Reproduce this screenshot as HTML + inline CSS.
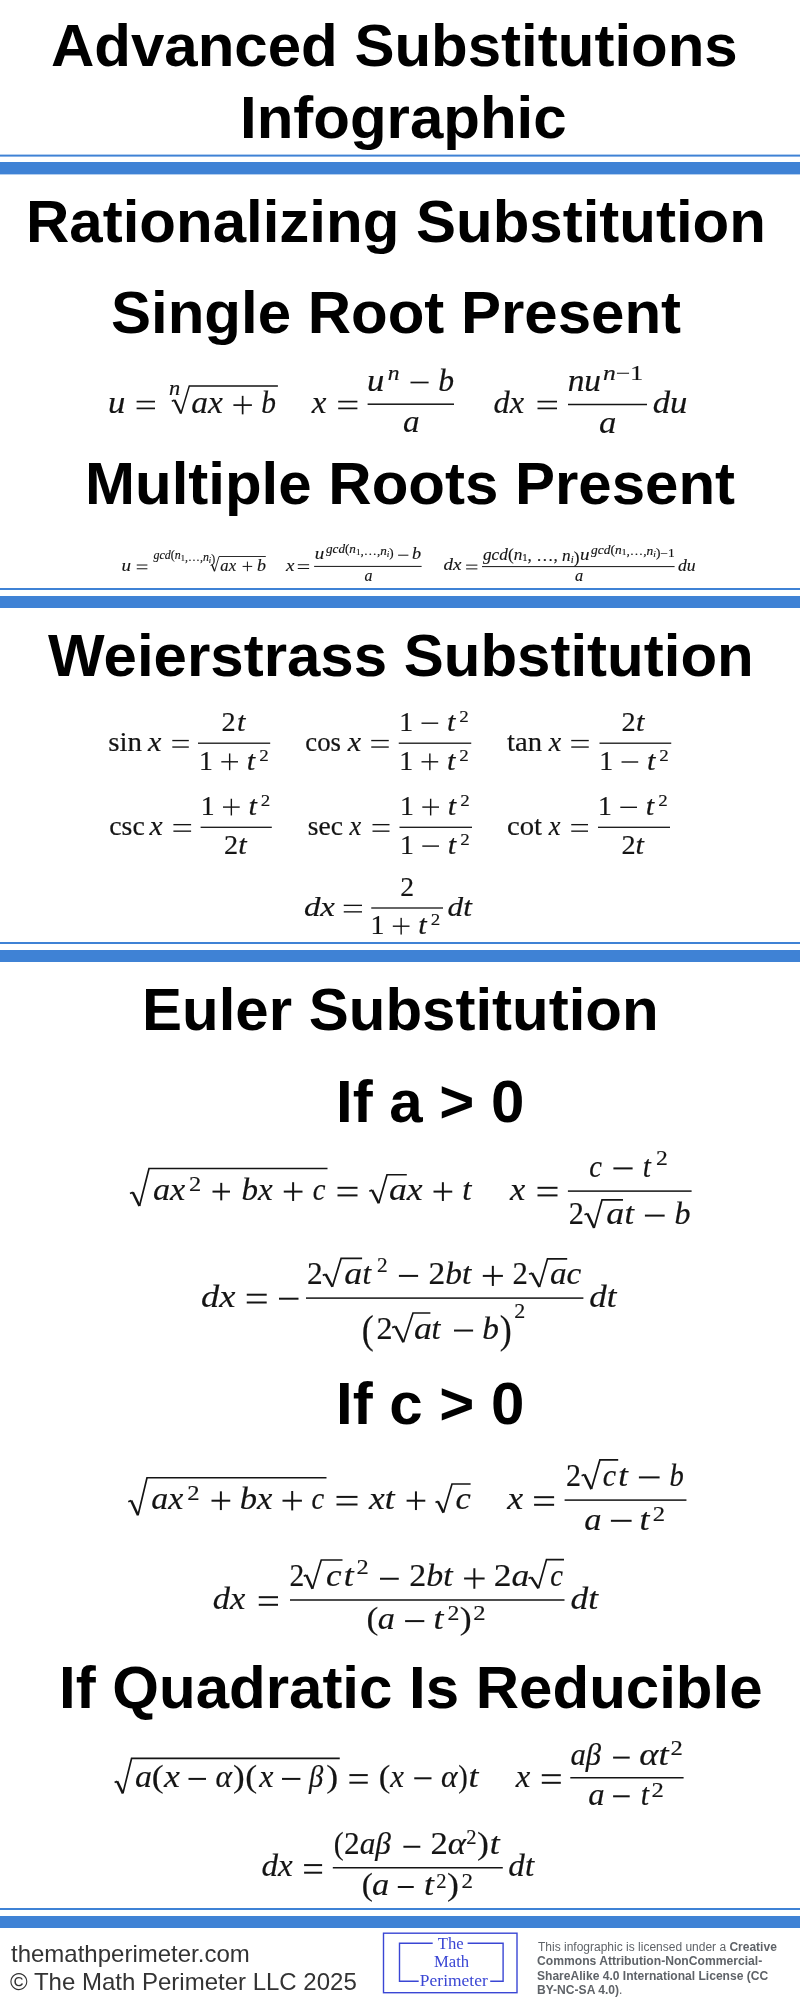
<!DOCTYPE html>
<html><head><meta charset="utf-8"><title>Advanced Substitutions Infographic</title>
<style>html,body{margin:0;padding:0;background:#fff;width:800px;height:2005px;overflow:hidden}svg{display:block;will-change:transform}.t,h1,h2,h3,p,div.t{position:absolute;margin:0;padding:0;white-space:nowrap;will-change:transform}</style></head>
<body><svg width="800" height="2005" viewBox="0 0 800 2005">
<rect x="0.00" y="154.60" width="800.00" height="2.00" fill="#3f82d5"/>
<rect x="0.00" y="162.00" width="800.00" height="12.40" fill="#3f82d5"/>
<rect x="0.00" y="588.00" width="800.00" height="2.00" fill="#3f82d5"/>
<rect x="0.00" y="596.00" width="800.00" height="12.00" fill="#3f82d5"/>
<rect x="0.00" y="942.00" width="800.00" height="2.00" fill="#3f82d5"/>
<rect x="0.00" y="950.00" width="800.00" height="12.00" fill="#3f82d5"/>
<rect x="0.00" y="1908.00" width="800.00" height="2.00" fill="#3f82d5"/>
<rect x="0.00" y="1916.00" width="800.00" height="12.00" fill="#3f82d5"/>
<rect x="136.60" y="400.75" width="18.40" height="1.70" fill="#141414"/>
<rect x="136.60" y="407.55" width="18.40" height="1.70" fill="#141414"/>
<path d="M171.80,401.20 L174.56,400.00" stroke="#141414" stroke-width="1.5" fill="none"/>
<path d="M174.56,400.00 L181.00,413.50" stroke="#141414" stroke-width="2.3" fill="none"/>
<path d="M181.00,413.50 L189.30,385.90 L277.90,385.90" stroke="#141414" stroke-width="1.5" fill="none" stroke-linejoin="miter"/>
<rect x="233.40" y="404.25" width="18.50" height="1.70" fill="#141414"/>
<rect x="241.80" y="395.85" width="1.70" height="18.50" fill="#141414"/>
<rect x="338.20" y="400.75" width="19.20" height="1.70" fill="#141414"/>
<rect x="338.20" y="407.55" width="19.20" height="1.70" fill="#141414"/>
<rect x="367.60" y="403.45" width="86.40" height="1.50" fill="#141414"/>
<rect x="410.50" y="381.65" width="18.10" height="1.70" fill="#141414"/>
<rect x="537.50" y="400.75" width="19.50" height="1.70" fill="#141414"/>
<rect x="537.50" y="407.55" width="19.50" height="1.70" fill="#141414"/>
<rect x="568.00" y="403.75" width="79.00" height="1.50" fill="#141414"/>
<rect x="136.75" y="564.52" width="10.65" height="1.00" fill="#141414"/>
<rect x="136.75" y="568.27" width="10.65" height="1.00" fill="#141414"/>
<path d="M210.70,565.60 L211.87,564.40" stroke="#141414" stroke-width="0.9" fill="none"/>
<path d="M211.87,564.40 L214.60,571.25" stroke="#141414" stroke-width="1.4" fill="none"/>
<path d="M214.60,571.25 L219.00,556.50 L265.80,556.50" stroke="#141414" stroke-width="0.9" fill="none" stroke-linejoin="miter"/>
<rect x="242.60" y="565.90" width="9.60" height="1.00" fill="#141414"/>
<rect x="246.90" y="561.60" width="1.00" height="9.60" fill="#141414"/>
<rect x="297.80" y="564.23" width="11.30" height="1.00" fill="#141414"/>
<rect x="297.80" y="567.98" width="11.30" height="1.00" fill="#141414"/>
<rect x="314.10" y="565.90" width="107.50" height="1.00" fill="#141414"/>
<rect x="398.10" y="554.70" width="10.30" height="1.00" fill="#141414"/>
<rect x="466.10" y="564.62" width="11.30" height="1.00" fill="#141414"/>
<rect x="466.10" y="568.38" width="11.30" height="1.00" fill="#141414"/>
<rect x="482.00" y="566.10" width="192.60" height="1.00" fill="#141414"/>
<rect x="172.30" y="739.88" width="16.50" height="1.35" fill="#141414"/>
<rect x="172.30" y="746.38" width="16.50" height="1.35" fill="#141414"/>
<rect x="198.00" y="742.55" width="72.20" height="1.30" fill="#141414"/>
<rect x="221.30" y="761.10" width="16.70" height="1.40" fill="#141414"/>
<rect x="228.95" y="753.45" width="1.40" height="16.70" fill="#141414"/>
<rect x="371.25" y="739.88" width="17.50" height="1.35" fill="#141414"/>
<rect x="371.25" y="746.38" width="17.50" height="1.35" fill="#141414"/>
<rect x="398.75" y="742.55" width="72.50" height="1.30" fill="#141414"/>
<rect x="421.50" y="722.50" width="16.70" height="1.40" fill="#141414"/>
<rect x="421.50" y="761.10" width="16.70" height="1.40" fill="#141414"/>
<rect x="429.15" y="753.45" width="1.40" height="16.70" fill="#141414"/>
<rect x="571.25" y="739.88" width="17.50" height="1.35" fill="#141414"/>
<rect x="571.25" y="746.38" width="17.50" height="1.35" fill="#141414"/>
<rect x="599.50" y="742.55" width="71.75" height="1.30" fill="#141414"/>
<rect x="621.53" y="761.30" width="16.69" height="1.40" fill="#141414"/>
<rect x="173.40" y="823.98" width="17.70" height="1.35" fill="#141414"/>
<rect x="173.40" y="830.48" width="17.70" height="1.35" fill="#141414"/>
<rect x="200.60" y="826.65" width="71.20" height="1.30" fill="#141414"/>
<rect x="223.00" y="806.40" width="16.70" height="1.40" fill="#141414"/>
<rect x="230.65" y="798.75" width="1.40" height="16.70" fill="#141414"/>
<rect x="372.50" y="823.98" width="17.00" height="1.35" fill="#141414"/>
<rect x="372.50" y="830.48" width="17.00" height="1.35" fill="#141414"/>
<rect x="399.50" y="826.65" width="72.50" height="1.30" fill="#141414"/>
<rect x="422.30" y="806.40" width="16.70" height="1.40" fill="#141414"/>
<rect x="429.95" y="798.75" width="1.40" height="16.70" fill="#141414"/>
<rect x="422.30" y="845.40" width="16.70" height="1.40" fill="#141414"/>
<rect x="571.25" y="823.98" width="16.75" height="1.35" fill="#141414"/>
<rect x="571.25" y="830.48" width="16.75" height="1.35" fill="#141414"/>
<rect x="598.00" y="826.65" width="72.00" height="1.30" fill="#141414"/>
<rect x="620.30" y="806.60" width="16.70" height="1.40" fill="#141414"/>
<rect x="343.75" y="904.68" width="18.25" height="1.35" fill="#141414"/>
<rect x="343.75" y="911.18" width="18.25" height="1.35" fill="#141414"/>
<rect x="371.25" y="907.35" width="71.75" height="1.30" fill="#141414"/>
<rect x="392.80" y="925.50" width="16.70" height="1.40" fill="#141414"/>
<rect x="400.45" y="917.85" width="1.40" height="16.70" fill="#141414"/>
<path d="M130.00,1193.50 L132.85,1192.30" stroke="#141414" stroke-width="1.7" fill="none"/>
<path d="M132.85,1192.30 L139.50,1206.00" stroke="#141414" stroke-width="2.5" fill="none"/>
<path d="M139.50,1206.00 L149.00,1168.50 L327.50,1168.50" stroke="#141414" stroke-width="1.7" fill="none" stroke-linejoin="miter"/>
<rect x="212.50" y="1190.60" width="17.50" height="2.00" fill="#141414"/>
<rect x="220.25" y="1182.85" width="2.00" height="17.50" fill="#141414"/>
<rect x="283.75" y="1190.60" width="18.75" height="2.00" fill="#141414"/>
<rect x="292.12" y="1182.22" width="2.00" height="18.75" fill="#141414"/>
<rect x="337.50" y="1186.80" width="20.00" height="2.00" fill="#141414"/>
<rect x="337.50" y="1194.40" width="20.00" height="2.00" fill="#141414"/>
<path d="M369.30,1191.25 L372.13,1190.05" stroke="#141414" stroke-width="1.7" fill="none"/>
<path d="M372.13,1190.05 L378.75,1203.25" stroke="#141414" stroke-width="2.5" fill="none"/>
<path d="M378.75,1203.25 L387.00,1174.75 L406.80,1174.75" stroke="#141414" stroke-width="1.7" fill="none" stroke-linejoin="miter"/>
<rect x="433.50" y="1190.60" width="18.75" height="2.00" fill="#141414"/>
<rect x="441.88" y="1182.22" width="2.00" height="18.75" fill="#141414"/>
<rect x="537.50" y="1186.80" width="20.00" height="2.00" fill="#141414"/>
<rect x="537.50" y="1194.40" width="20.00" height="2.00" fill="#141414"/>
<rect x="567.90" y="1190.35" width="123.70" height="1.50" fill="#141414"/>
<rect x="613.40" y="1167.40" width="19.20" height="2.00" fill="#141414"/>
<path d="M584.50,1214.75 L587.38,1213.55" stroke="#141414" stroke-width="1.7" fill="none"/>
<path d="M587.38,1213.55 L594.10,1227.90" stroke="#141414" stroke-width="2.5" fill="none"/>
<path d="M594.10,1227.90 L602.00,1199.90 L623.00,1199.90" stroke="#141414" stroke-width="1.7" fill="none" stroke-linejoin="miter"/>
<rect x="644.90" y="1214.60" width="19.75" height="2.00" fill="#141414"/>
<rect x="246.75" y="1293.70" width="19.95" height="2.00" fill="#141414"/>
<rect x="246.75" y="1301.50" width="19.95" height="2.00" fill="#141414"/>
<rect x="279.00" y="1297.70" width="19.50" height="2.00" fill="#141414"/>
<rect x="306.00" y="1297.35" width="277.40" height="1.50" fill="#141414"/>
<path d="M322.75,1275.40 L325.64,1274.20" stroke="#141414" stroke-width="1.7" fill="none"/>
<path d="M325.64,1274.20 L332.40,1286.75" stroke="#141414" stroke-width="2.5" fill="none"/>
<path d="M332.40,1286.75 L341.10,1258.40 L362.10,1258.40" stroke="#141414" stroke-width="1.7" fill="none" stroke-linejoin="miter"/>
<rect x="398.90" y="1274.90" width="19.20" height="2.00" fill="#141414"/>
<rect x="482.80" y="1274.90" width="20.10" height="2.00" fill="#141414"/>
<rect x="491.85" y="1265.85" width="2.00" height="20.10" fill="#141414"/>
<path d="M529.00,1274.30 L532.12,1273.10" stroke="#141414" stroke-width="1.7" fill="none"/>
<path d="M532.12,1273.10 L539.40,1287.00" stroke="#141414" stroke-width="2.5" fill="none"/>
<path d="M539.40,1287.00 L547.50,1258.80 L567.20,1258.80" stroke="#141414" stroke-width="1.7" fill="none" stroke-linejoin="miter"/>
<path d="M392.10,1327.60 L395.49,1326.40" stroke="#141414" stroke-width="1.7" fill="none"/>
<path d="M395.49,1326.40 L403.40,1342.25" stroke="#141414" stroke-width="2.5" fill="none"/>
<path d="M403.40,1342.25 L413.00,1313.00 L430.40,1313.00" stroke="#141414" stroke-width="1.7" fill="none" stroke-linejoin="miter"/>
<rect x="454.00" y="1329.55" width="19.10" height="2.00" fill="#141414"/>
<path d="M128.25,1501.75 L131.18,1500.55" stroke="#141414" stroke-width="1.7" fill="none"/>
<path d="M131.18,1500.55 L138.00,1515.25" stroke="#141414" stroke-width="2.5" fill="none"/>
<path d="M138.00,1515.25 L147.00,1477.75 L326.50,1477.75" stroke="#141414" stroke-width="1.7" fill="none" stroke-linejoin="miter"/>
<rect x="211.50" y="1499.70" width="18.75" height="2.00" fill="#141414"/>
<rect x="219.88" y="1491.33" width="2.00" height="18.75" fill="#141414"/>
<rect x="282.50" y="1499.70" width="19.40" height="2.00" fill="#141414"/>
<rect x="291.20" y="1491.00" width="2.00" height="19.40" fill="#141414"/>
<rect x="336.50" y="1495.90" width="21.00" height="2.00" fill="#141414"/>
<rect x="336.50" y="1503.50" width="21.00" height="2.00" fill="#141414"/>
<rect x="406.60" y="1499.70" width="18.70" height="2.00" fill="#141414"/>
<rect x="414.95" y="1491.35" width="2.00" height="18.70" fill="#141414"/>
<path d="M435.50,1502.50 L437.90,1501.30" stroke="#141414" stroke-width="1.7" fill="none"/>
<path d="M437.90,1501.30 L443.50,1512.60" stroke="#141414" stroke-width="2.5" fill="none"/>
<path d="M443.50,1512.60 L452.00,1484.00 L470.60,1484.00" stroke="#141414" stroke-width="1.7" fill="none" stroke-linejoin="miter"/>
<rect x="534.10" y="1496.20" width="20.00" height="2.00" fill="#141414"/>
<rect x="534.10" y="1503.80" width="20.00" height="2.00" fill="#141414"/>
<rect x="564.60" y="1499.35" width="121.85" height="1.50" fill="#141414"/>
<path d="M581.60,1475.70 L584.54,1474.50" stroke="#141414" stroke-width="1.7" fill="none"/>
<path d="M584.54,1474.50 L591.40,1489.10" stroke="#141414" stroke-width="2.5" fill="none"/>
<path d="M591.40,1489.10 L599.90,1459.90 L618.20,1459.90" stroke="#141414" stroke-width="1.7" fill="none" stroke-linejoin="miter"/>
<rect x="638.90" y="1476.40" width="20.70" height="2.00" fill="#141414"/>
<rect x="610.90" y="1519.80" width="20.70" height="2.00" fill="#141414"/>
<rect x="258.75" y="1596.20" width="19.25" height="2.00" fill="#141414"/>
<rect x="258.75" y="1603.80" width="19.25" height="2.00" fill="#141414"/>
<rect x="290.00" y="1599.25" width="274.50" height="1.50" fill="#141414"/>
<path d="M303.75,1576.25 L306.38,1575.05" stroke="#141414" stroke-width="1.7" fill="none"/>
<path d="M306.38,1575.05 L312.50,1588.75" stroke="#141414" stroke-width="2.5" fill="none"/>
<path d="M312.50,1588.75 L321.25,1560.00 L342.50,1560.00" stroke="#141414" stroke-width="1.7" fill="none" stroke-linejoin="miter"/>
<rect x="380.00" y="1577.75" width="18.75" height="2.00" fill="#141414"/>
<rect x="464.10" y="1577.50" width="20.50" height="2.00" fill="#141414"/>
<rect x="473.35" y="1568.25" width="2.00" height="20.50" fill="#141414"/>
<path d="M528.50,1578.50 L531.47,1577.30" stroke="#141414" stroke-width="1.7" fill="none"/>
<path d="M531.47,1577.30 L538.40,1588.30" stroke="#141414" stroke-width="2.5" fill="none"/>
<path d="M538.40,1588.30 L546.50,1559.60 L564.00,1559.60" stroke="#141414" stroke-width="1.7" fill="none" stroke-linejoin="miter"/>
<rect x="405.10" y="1620.10" width="19.20" height="2.00" fill="#141414"/>
<path d="M114.65,1782.40 L117.12,1781.20" stroke="#141414" stroke-width="1.7" fill="none"/>
<path d="M117.12,1781.20 L122.90,1793.40" stroke="#141414" stroke-width="2.5" fill="none"/>
<path d="M122.90,1793.40 L131.60,1758.40 L339.75,1758.40" stroke="#141414" stroke-width="1.7" fill="none" stroke-linejoin="miter"/>
<rect x="188.50" y="1777.90" width="17.50" height="2.00" fill="#141414"/>
<rect x="282.00" y="1777.90" width="18.40" height="2.00" fill="#141414"/>
<rect x="349.40" y="1774.10" width="18.35" height="2.00" fill="#141414"/>
<rect x="349.40" y="1781.70" width="18.35" height="2.00" fill="#141414"/>
<rect x="414.25" y="1777.30" width="17.25" height="2.00" fill="#141414"/>
<rect x="541.80" y="1774.20" width="19.00" height="2.00" fill="#141414"/>
<rect x="541.80" y="1781.80" width="19.00" height="2.00" fill="#141414"/>
<rect x="570.30" y="1777.00" width="113.30" height="1.50" fill="#141414"/>
<rect x="613.10" y="1756.60" width="16.60" height="2.00" fill="#141414"/>
<rect x="613.10" y="1795.30" width="16.60" height="2.00" fill="#141414"/>
<rect x="304.10" y="1864.10" width="18.00" height="2.00" fill="#141414"/>
<rect x="304.10" y="1871.70" width="18.00" height="2.00" fill="#141414"/>
<rect x="332.80" y="1867.00" width="170.00" height="1.50" fill="#141414"/>
<rect x="403.40" y="1845.75" width="16.90" height="2.00" fill="#141414"/>
<rect x="397.80" y="1886.00" width="15.95" height="2.00" fill="#141414"/>
<rect x="383.5" y="1933.2" width="133.5" height="59.5" fill="none" stroke="#3a46d4" stroke-width="1.4"/>
<path d="M432.7,1943.3 H399.5 V1981.3 H418.7 M467.6,1943.3 H503.1 V1981.3 H490.2" fill="none" stroke="#3a46d4" stroke-width="1.4"/>
<text transform="translate(107.89,413.00) scale(1.1200,1.0000)" font-family="Liberation Serif" font-size="31" font-weight="normal" font-style="normal" fill="#141414" stroke="#141414" stroke-width="0.18" style="white-space:pre"><tspan font-style="italic">u</tspan></text>
<text transform="translate(169.08,395.00) scale(1.1200,1.0000)" font-family="Liberation Serif" font-size="20" font-weight="normal" font-style="normal" fill="#141414" stroke="#141414" stroke-width="0.18" style="white-space:pre"><tspan font-style="italic">n</tspan></text>
<text transform="translate(191.32,413.00) scale(1.0786,1.0000)" font-family="Liberation Serif" font-size="31" font-weight="normal" font-style="normal" fill="#141414" stroke="#141414" stroke-width="0.18" style="white-space:pre"><tspan font-style="italic">a</tspan><tspan font-style="italic">x</tspan></text>
<text transform="translate(261.15,413.00) scale(0.9500,1.0000)" font-family="Liberation Serif" font-size="31" font-weight="normal" font-style="normal" fill="#141414" stroke="#141414" stroke-width="0.18" style="white-space:pre"><tspan font-style="italic">b</tspan></text>
<text transform="translate(311.70,413.00) scale(1.0643,1.0000)" font-family="Liberation Serif" font-size="31" font-weight="normal" font-style="normal" fill="#141414" stroke="#141414" stroke-width="0.18" style="white-space:pre"><tspan font-style="italic">x</tspan></text>
<text transform="translate(367.04,390.60) scale(1.1200,1.0000)" font-family="Liberation Serif" font-size="31" font-weight="normal" font-style="normal" fill="#141414" stroke="#141414" stroke-width="0.18" style="white-space:pre"><tspan font-style="italic">u</tspan></text>
<text transform="translate(387.64,380.00) scale(1.1200,1.0000)" font-family="Liberation Serif" font-size="21" font-weight="normal" font-style="normal" fill="#141414" stroke="#141414" stroke-width="0.18" style="white-space:pre"><tspan font-style="italic">n</tspan></text>
<text transform="translate(438.18,390.60) scale(1.0214,1.0000)" font-family="Liberation Serif" font-size="31" font-weight="normal" font-style="normal" fill="#141414" stroke="#141414" stroke-width="0.18" style="white-space:pre"><tspan font-style="italic">b</tspan></text>
<text transform="translate(403.03,432.40) scale(1.0692,1.0000)" font-family="Liberation Serif" font-size="31" font-weight="normal" font-style="normal" fill="#141414" stroke="#141414" stroke-width="0.18" style="white-space:pre"><tspan font-style="italic">a</tspan></text>
<text transform="translate(493.46,413.00) scale(1.0446,1.0000)" font-family="Liberation Serif" font-size="31" font-weight="normal" font-style="normal" fill="#141414" stroke="#141414" stroke-width="0.18" style="white-space:pre"><tspan font-style="italic">d</tspan><tspan font-style="italic">x</tspan></text>
<text transform="translate(567.67,391.25) scale(1.0776,1.0000)" font-family="Liberation Serif" font-size="31" font-weight="normal" font-style="normal" fill="#141414" stroke="#141414" stroke-width="0.18" style="white-space:pre"><tspan font-style="italic">n</tspan><tspan font-style="italic">u</tspan></text>
<text transform="translate(602.98,380.00) scale(1.2200,1.0000)" font-family="Liberation Serif" font-size="21" font-weight="normal" font-style="normal" fill="#141414" stroke="#141414" stroke-width="0.18" style="white-space:pre"><tspan font-style="italic">n</tspan>−1</text>
<text transform="translate(599.10,432.50) scale(1.1200,1.0000)" font-family="Liberation Serif" font-size="31" font-weight="normal" font-style="normal" fill="#141414" stroke="#141414" stroke-width="0.18" style="white-space:pre"><tspan font-style="italic">a</tspan></text>
<text transform="translate(652.63,413.00) scale(1.1207,1.0000)" font-family="Liberation Serif" font-size="31" font-weight="normal" font-style="normal" fill="#141414" stroke="#141414" stroke-width="0.18" style="white-space:pre"><tspan font-style="italic">d</tspan><tspan font-style="italic">u</tspan></text>
<text transform="translate(121.41,571.10) scale(1.1200,1.0000)" font-family="Liberation Serif" font-size="17" font-weight="normal" font-style="normal" fill="#141414" stroke="#141414" stroke-width="0.144" style="white-space:pre"><tspan font-style="italic">u</tspan></text>
<text transform="translate(153.60,559.40) scale(1.0390,1.0000)" font-family="Liberation Serif" font-size="11.5" font-weight="normal" font-style="normal" fill="#141414" stroke="#141414" stroke-width="0.144" style="white-space:pre"><tspan font-style="italic">g</tspan><tspan font-style="italic">c</tspan><tspan font-style="italic">d</tspan>(<tspan font-style="italic">n</tspan><tspan font-size="8.05" dy="1.84">1</tspan><tspan dy="-1.84"></tspan>,…,<tspan font-style="italic">n</tspan><tspan font-size="8.05" dy="1.84"><tspan font-style="italic">i</tspan></tspan><tspan dy="-1.84"></tspan>)</text>
<text transform="translate(220.30,570.80) scale(0.9812,1.0000)" font-family="Liberation Serif" font-size="17" font-weight="normal" font-style="normal" fill="#141414" stroke="#141414" stroke-width="0.144" style="white-space:pre"><tspan font-style="italic">a</tspan><tspan font-style="italic">x</tspan></text>
<text transform="translate(256.94,570.80) scale(1.0571,1.0000)" font-family="Liberation Serif" font-size="17" font-weight="normal" font-style="normal" fill="#141414" stroke="#141414" stroke-width="0.144" style="white-space:pre"><tspan font-style="italic">b</tspan></text>
<text transform="translate(286.02,571.10) scale(1.1200,1.0000)" font-family="Liberation Serif" font-size="17" font-weight="normal" font-style="normal" fill="#141414" stroke="#141414" stroke-width="0.144" style="white-space:pre"><tspan font-style="italic">x</tspan></text>
<text transform="translate(314.81,559.00) scale(1.1200,1.0000)" font-family="Liberation Serif" font-size="17" font-weight="normal" font-style="normal" fill="#141414" stroke="#141414" stroke-width="0.144" style="white-space:pre"><tspan font-style="italic">u</tspan></text>
<text transform="translate(326.00,553.30) scale(1.1424,1.0000)" font-family="Liberation Serif" font-size="11.5" font-weight="normal" font-style="normal" fill="#141414" stroke="#141414" stroke-width="0.144" style="white-space:pre"><tspan font-style="italic">g</tspan><tspan font-style="italic">c</tspan><tspan font-style="italic">d</tspan>(<tspan font-style="italic">n</tspan><tspan font-size="8.05" dy="1.84">1</tspan><tspan dy="-1.84"></tspan>,…,<tspan font-style="italic">n</tspan><tspan font-size="8.05" dy="1.84"><tspan font-style="italic">i</tspan></tspan><tspan dy="-1.84"></tspan>)</text>
<text transform="translate(412.03,559.00) scale(1.0714,1.0000)" font-family="Liberation Serif" font-size="17" font-weight="normal" font-style="normal" fill="#141414" stroke="#141414" stroke-width="0.144" style="white-space:pre"><tspan font-style="italic">b</tspan></text>
<text transform="translate(364.40,581.40) scale(0.9375,1.0000)" font-family="Liberation Serif" font-size="17" font-weight="normal" font-style="normal" fill="#141414" stroke="#141414" stroke-width="0.144" style="white-space:pre"><tspan font-style="italic">a</tspan></text>
<text transform="translate(443.60,570.40) scale(1.1125,1.0000)" font-family="Liberation Serif" font-size="17" font-weight="normal" font-style="normal" fill="#141414" stroke="#141414" stroke-width="0.144" style="white-space:pre"><tspan font-style="italic">d</tspan><tspan font-style="italic">x</tspan></text>
<text transform="translate(483.00,559.70) scale(1.0137,1.0000)" font-family="Liberation Serif" font-size="17" font-weight="normal" font-style="normal" fill="#141414" stroke="#141414" stroke-width="0.144" style="white-space:pre"><tspan font-style="italic">g</tspan><tspan font-style="italic">c</tspan><tspan font-style="italic">d</tspan>(<tspan font-style="italic">n</tspan><tspan font-size="10.54" dy="1.70">1</tspan><tspan dy="-1.70"></tspan>, …, <tspan font-style="italic">n</tspan><tspan font-size="10.54" dy="1.70"><tspan font-style="italic">i</tspan></tspan><tspan dy="-1.70"></tspan>)</text>
<text transform="translate(579.96,559.70) scale(1.1200,1.0000)" font-family="Liberation Serif" font-size="17" font-weight="normal" font-style="normal" fill="#141414" stroke="#141414" stroke-width="0.144" style="white-space:pre"><tspan font-style="italic">u</tspan></text>
<text transform="translate(591.10,553.50) scale(1.1686,1.0000)" font-family="Liberation Serif" font-size="11.5" font-weight="normal" font-style="normal" fill="#141414" stroke="#141414" stroke-width="0.144" style="white-space:pre"><tspan font-style="italic">g</tspan><tspan font-style="italic">c</tspan><tspan font-style="italic">d</tspan>(<tspan font-style="italic">n</tspan><tspan font-size="8.05" dy="1.84">1</tspan><tspan dy="-1.84"></tspan>,…,<tspan font-style="italic">n</tspan><tspan font-size="8.05" dy="1.84"><tspan font-style="italic">i</tspan></tspan><tspan dy="-1.84"></tspan>)−1</text>
<text transform="translate(575.00,581.10) scale(0.9625,1.0000)" font-family="Liberation Serif" font-size="17" font-weight="normal" font-style="normal" fill="#141414" stroke="#141414" stroke-width="0.144" style="white-space:pre"><tspan font-style="italic">a</tspan></text>
<text transform="translate(678.00,570.60) scale(1.0412,1.0000)" font-family="Liberation Serif" font-size="17" font-weight="normal" font-style="normal" fill="#141414" stroke="#141414" stroke-width="0.144" style="white-space:pre"><tspan font-style="italic">d</tspan><tspan font-style="italic">u</tspan></text>
<text transform="translate(108.27,751.40) scale(1.0750,1.0000)" font-family="Liberation Serif" font-size="27" font-weight="normal" font-style="normal" fill="#141414" stroke="#141414" stroke-width="0.18" style="white-space:pre"><tspan font-style="normal">sin</tspan></text>
<text transform="translate(147.96,751.40) scale(1.1200,1.0000)" font-family="Liberation Serif" font-size="27" font-weight="normal" font-style="normal" fill="#141414" stroke="#141414" stroke-width="0.18" style="white-space:pre"><tspan font-style="italic">x</tspan></text>
<text transform="translate(221.45,731.00) scale(1.0455,1.0000)" font-family="Liberation Serif" font-size="27" font-weight="normal" font-style="normal" fill="#141414" stroke="#141414" stroke-width="0.18" style="white-space:pre">2</text>
<text transform="translate(236.96,731.00) scale(1.1200,1.0000)" font-family="Liberation Serif" font-size="27" font-weight="normal" font-style="normal" fill="#141414" stroke="#141414" stroke-width="0.18" style="white-space:pre"><tspan font-style="italic">t</tspan></text>
<text transform="translate(198.94,769.80) scale(1.0300,1.0000)" font-family="Liberation Serif" font-size="27" font-weight="normal" font-style="normal" fill="#141414" stroke="#141414" stroke-width="0.18" style="white-space:pre">1</text>
<text transform="translate(246.76,769.80) scale(1.1200,1.0000)" font-family="Liberation Serif" font-size="27" font-weight="normal" font-style="normal" fill="#141414" stroke="#141414" stroke-width="0.18" style="white-space:pre"><tspan font-style="italic">t</tspan></text>
<text transform="translate(259.16,761.00) scale(1.1200,1.0000)" font-family="Liberation Serif" font-size="17" font-weight="normal" font-style="normal" fill="#141414" stroke="#141414" stroke-width="0.144" style="white-space:pre">2</text>
<text transform="translate(305.26,751.40) scale(0.9926,1.0000)" font-family="Liberation Serif" font-size="27" font-weight="normal" font-style="normal" fill="#141414" stroke="#141414" stroke-width="0.18" style="white-space:pre"><tspan font-style="normal">cos</tspan></text>
<text transform="translate(347.65,751.40) scale(1.1200,1.0000)" font-family="Liberation Serif" font-size="27" font-weight="normal" font-style="normal" fill="#141414" stroke="#141414" stroke-width="0.18" style="white-space:pre"><tspan font-style="italic">x</tspan></text>
<text transform="translate(399.14,731.00) scale(1.0300,1.0000)" font-family="Liberation Serif" font-size="27" font-weight="normal" font-style="normal" fill="#141414" stroke="#141414" stroke-width="0.18" style="white-space:pre">1</text>
<text transform="translate(446.96,731.00) scale(1.1200,1.0000)" font-family="Liberation Serif" font-size="27" font-weight="normal" font-style="normal" fill="#141414" stroke="#141414" stroke-width="0.18" style="white-space:pre"><tspan font-style="italic">t</tspan></text>
<text transform="translate(459.36,722.20) scale(1.1200,1.0000)" font-family="Liberation Serif" font-size="17" font-weight="normal" font-style="normal" fill="#141414" stroke="#141414" stroke-width="0.144" style="white-space:pre">2</text>
<text transform="translate(399.14,769.80) scale(1.0300,1.0000)" font-family="Liberation Serif" font-size="27" font-weight="normal" font-style="normal" fill="#141414" stroke="#141414" stroke-width="0.18" style="white-space:pre">1</text>
<text transform="translate(446.96,769.80) scale(1.1200,1.0000)" font-family="Liberation Serif" font-size="27" font-weight="normal" font-style="normal" fill="#141414" stroke="#141414" stroke-width="0.18" style="white-space:pre"><tspan font-style="italic">t</tspan></text>
<text transform="translate(459.36,761.00) scale(1.1200,1.0000)" font-family="Liberation Serif" font-size="17" font-weight="normal" font-style="normal" fill="#141414" stroke="#141414" stroke-width="0.144" style="white-space:pre">2</text>
<text transform="translate(507.00,751.40) scale(1.0606,1.0000)" font-family="Liberation Serif" font-size="27" font-weight="normal" font-style="normal" fill="#141414" stroke="#141414" stroke-width="0.18" style="white-space:pre"><tspan font-style="normal">tan</tspan></text>
<text transform="translate(548.75,751.40) scale(1.0417,1.0000)" font-family="Liberation Serif" font-size="27" font-weight="normal" font-style="normal" fill="#141414" stroke="#141414" stroke-width="0.18" style="white-space:pre"><tspan font-style="italic">x</tspan></text>
<text transform="translate(621.45,731.00) scale(1.0455,1.0000)" font-family="Liberation Serif" font-size="27" font-weight="normal" font-style="normal" fill="#141414" stroke="#141414" stroke-width="0.18" style="white-space:pre">2</text>
<text transform="translate(635.96,731.00) scale(1.1200,1.0000)" font-family="Liberation Serif" font-size="27" font-weight="normal" font-style="normal" fill="#141414" stroke="#141414" stroke-width="0.18" style="white-space:pre"><tspan font-style="italic">t</tspan></text>
<text transform="translate(599.19,769.80) scale(1.0292,1.0000)" font-family="Liberation Serif" font-size="27" font-weight="normal" font-style="normal" fill="#141414" stroke="#141414" stroke-width="0.18" style="white-space:pre">1</text>
<text transform="translate(646.97,769.80) scale(1.1200,1.0000)" font-family="Liberation Serif" font-size="27" font-weight="normal" font-style="normal" fill="#141414" stroke="#141414" stroke-width="0.18" style="white-space:pre"><tspan font-style="italic">t</tspan></text>
<text transform="translate(659.36,761.00) scale(1.1200,1.0000)" font-family="Liberation Serif" font-size="17" font-weight="normal" font-style="normal" fill="#141414" stroke="#141414" stroke-width="0.144" style="white-space:pre">2</text>
<text transform="translate(109.27,835.40) scale(1.0303,1.0000)" font-family="Liberation Serif" font-size="27" font-weight="normal" font-style="normal" fill="#141414" stroke="#141414" stroke-width="0.18" style="white-space:pre"><tspan font-style="normal">csc</tspan></text>
<text transform="translate(149.60,835.40) scale(1.1000,1.0000)" font-family="Liberation Serif" font-size="27" font-weight="normal" font-style="normal" fill="#141414" stroke="#141414" stroke-width="0.18" style="white-space:pre"><tspan font-style="italic">x</tspan></text>
<text transform="translate(200.64,815.10) scale(1.0300,1.0000)" font-family="Liberation Serif" font-size="27" font-weight="normal" font-style="normal" fill="#141414" stroke="#141414" stroke-width="0.18" style="white-space:pre">1</text>
<text transform="translate(248.46,815.10) scale(1.1200,1.0000)" font-family="Liberation Serif" font-size="27" font-weight="normal" font-style="normal" fill="#141414" stroke="#141414" stroke-width="0.18" style="white-space:pre"><tspan font-style="italic">t</tspan></text>
<text transform="translate(260.86,806.30) scale(1.1200,1.0000)" font-family="Liberation Serif" font-size="17" font-weight="normal" font-style="normal" fill="#141414" stroke="#141414" stroke-width="0.144" style="white-space:pre">2</text>
<text transform="translate(223.95,853.90) scale(1.0455,1.0000)" font-family="Liberation Serif" font-size="27" font-weight="normal" font-style="normal" fill="#141414" stroke="#141414" stroke-width="0.18" style="white-space:pre">2</text>
<text transform="translate(238.26,853.90) scale(1.1200,1.0000)" font-family="Liberation Serif" font-size="27" font-weight="normal" font-style="normal" fill="#141414" stroke="#141414" stroke-width="0.18" style="white-space:pre"><tspan font-style="italic">t</tspan></text>
<text transform="translate(307.73,835.40) scale(1.0227,1.0000)" font-family="Liberation Serif" font-size="27" font-weight="normal" font-style="normal" fill="#141414" stroke="#141414" stroke-width="0.18" style="white-space:pre"><tspan font-style="normal">sec</tspan></text>
<text transform="translate(349.50,835.40) scale(0.9792,1.0000)" font-family="Liberation Serif" font-size="27" font-weight="normal" font-style="normal" fill="#141414" stroke="#141414" stroke-width="0.18" style="white-space:pre"><tspan font-style="italic">x</tspan></text>
<text transform="translate(399.94,815.10) scale(1.0300,1.0000)" font-family="Liberation Serif" font-size="27" font-weight="normal" font-style="normal" fill="#141414" stroke="#141414" stroke-width="0.18" style="white-space:pre">1</text>
<text transform="translate(447.76,815.10) scale(1.1200,1.0000)" font-family="Liberation Serif" font-size="27" font-weight="normal" font-style="normal" fill="#141414" stroke="#141414" stroke-width="0.18" style="white-space:pre"><tspan font-style="italic">t</tspan></text>
<text transform="translate(460.16,806.30) scale(1.1200,1.0000)" font-family="Liberation Serif" font-size="17" font-weight="normal" font-style="normal" fill="#141414" stroke="#141414" stroke-width="0.144" style="white-space:pre">2</text>
<text transform="translate(399.94,853.90) scale(1.0300,1.0000)" font-family="Liberation Serif" font-size="27" font-weight="normal" font-style="normal" fill="#141414" stroke="#141414" stroke-width="0.18" style="white-space:pre">1</text>
<text transform="translate(447.76,853.90) scale(1.1200,1.0000)" font-family="Liberation Serif" font-size="27" font-weight="normal" font-style="normal" fill="#141414" stroke="#141414" stroke-width="0.18" style="white-space:pre"><tspan font-style="italic">t</tspan></text>
<text transform="translate(460.16,845.10) scale(1.1200,1.0000)" font-family="Liberation Serif" font-size="17" font-weight="normal" font-style="normal" fill="#141414" stroke="#141414" stroke-width="0.144" style="white-space:pre">2</text>
<text transform="translate(506.94,835.40) scale(1.0625,1.0000)" font-family="Liberation Serif" font-size="27" font-weight="normal" font-style="normal" fill="#141414" stroke="#141414" stroke-width="0.18" style="white-space:pre"><tspan font-style="normal">cot</tspan></text>
<text transform="translate(548.75,835.40) scale(0.9792,1.0000)" font-family="Liberation Serif" font-size="27" font-weight="normal" font-style="normal" fill="#141414" stroke="#141414" stroke-width="0.18" style="white-space:pre"><tspan font-style="italic">x</tspan></text>
<text transform="translate(597.94,815.10) scale(1.0300,1.0000)" font-family="Liberation Serif" font-size="27" font-weight="normal" font-style="normal" fill="#141414" stroke="#141414" stroke-width="0.18" style="white-space:pre">1</text>
<text transform="translate(645.76,815.10) scale(1.1200,1.0000)" font-family="Liberation Serif" font-size="27" font-weight="normal" font-style="normal" fill="#141414" stroke="#141414" stroke-width="0.18" style="white-space:pre"><tspan font-style="italic">t</tspan></text>
<text transform="translate(658.16,806.30) scale(1.1200,1.0000)" font-family="Liberation Serif" font-size="17" font-weight="normal" font-style="normal" fill="#141414" stroke="#141414" stroke-width="0.144" style="white-space:pre">2</text>
<text transform="translate(621.45,853.90) scale(1.0455,1.0000)" font-family="Liberation Serif" font-size="27" font-weight="normal" font-style="normal" fill="#141414" stroke="#141414" stroke-width="0.18" style="white-space:pre">2</text>
<text transform="translate(635.46,853.90) scale(1.1200,1.0000)" font-family="Liberation Serif" font-size="27" font-weight="normal" font-style="normal" fill="#141414" stroke="#141414" stroke-width="0.18" style="white-space:pre"><tspan font-style="italic">t</tspan></text>
<text transform="translate(303.89,916.25) scale(1.2200,1.0000)" font-family="Liberation Serif" font-size="27" font-weight="normal" font-style="normal" fill="#141414" stroke="#141414" stroke-width="0.18" style="white-space:pre"><tspan font-style="italic">d</tspan><tspan font-style="italic">x</tspan></text>
<text transform="translate(400.23,895.75) scale(1.0227,1.0000)" font-family="Liberation Serif" font-size="27" font-weight="normal" font-style="normal" fill="#141414" stroke="#141414" stroke-width="0.18" style="white-space:pre">2</text>
<text transform="translate(370.44,934.20) scale(1.0300,1.0000)" font-family="Liberation Serif" font-size="27" font-weight="normal" font-style="normal" fill="#141414" stroke="#141414" stroke-width="0.18" style="white-space:pre">1</text>
<text transform="translate(418.26,934.20) scale(1.1200,1.0000)" font-family="Liberation Serif" font-size="27" font-weight="normal" font-style="normal" fill="#141414" stroke="#141414" stroke-width="0.18" style="white-space:pre"><tspan font-style="italic">t</tspan></text>
<text transform="translate(430.66,925.40) scale(1.1200,1.0000)" font-family="Liberation Serif" font-size="17" font-weight="normal" font-style="normal" fill="#141414" stroke="#141414" stroke-width="0.144" style="white-space:pre">2</text>
<text transform="translate(447.60,916.25) scale(1.1548,1.0000)" font-family="Liberation Serif" font-size="27" font-weight="normal" font-style="normal" fill="#141414" stroke="#141414" stroke-width="0.18" style="white-space:pre"><tspan font-style="italic">d</tspan><tspan font-style="italic">t</tspan></text>
<text transform="translate(152.93,1200.40) scale(1.0690,1.0000)" font-family="Liberation Serif" font-size="32" font-weight="normal" font-style="normal" fill="#141414" stroke="#141414" stroke-width="0.18" style="white-space:pre"><tspan font-style="italic">a</tspan><tspan font-style="italic">x</tspan></text>
<text transform="translate(188.89,1191.00) scale(1.1111,1.0000)" font-family="Liberation Serif" font-size="22" font-weight="normal" font-style="normal" fill="#141414" stroke="#141414" stroke-width="0.18" style="white-space:pre">2</text>
<text transform="translate(241.47,1200.40) scale(1.0345,1.0000)" font-family="Liberation Serif" font-size="32" font-weight="normal" font-style="normal" fill="#141414" stroke="#141414" stroke-width="0.18" style="white-space:pre"><tspan font-style="italic">b</tspan><tspan font-style="italic">x</tspan></text>
<text transform="translate(312.68,1200.40) scale(0.8929,1.0000)" font-family="Liberation Serif" font-size="32" font-weight="normal" font-style="normal" fill="#141414" stroke="#141414" stroke-width="0.18" style="white-space:pre"><tspan font-style="italic">c</tspan></text>
<text transform="translate(388.89,1200.40) scale(1.1121,1.0000)" font-family="Liberation Serif" font-size="32" font-weight="normal" font-style="normal" fill="#141414" stroke="#141414" stroke-width="0.18" style="white-space:pre"><tspan font-style="italic">a</tspan><tspan font-style="italic">x</tspan></text>
<text transform="translate(462.17,1200.40) scale(1.0333,1.0000)" font-family="Liberation Serif" font-size="32" font-weight="normal" font-style="normal" fill="#141414" stroke="#141414" stroke-width="0.18" style="white-space:pre"><tspan font-style="italic">t</tspan></text>
<text transform="translate(510.00,1200.40) scale(1.0714,1.0000)" font-family="Liberation Serif" font-size="32" font-weight="normal" font-style="normal" fill="#141414" stroke="#141414" stroke-width="0.18" style="white-space:pre"><tspan font-style="italic">x</tspan></text>
<text transform="translate(589.15,1177.10) scale(0.8929,1.0000)" font-family="Liberation Serif" font-size="32" font-weight="normal" font-style="normal" fill="#141414" stroke="#141414" stroke-width="0.18" style="white-space:pre"><tspan font-style="italic">c</tspan></text>
<text transform="translate(642.79,1177.10) scale(0.9111,1.0000)" font-family="Liberation Serif" font-size="32" font-weight="normal" font-style="normal" fill="#141414" stroke="#141414" stroke-width="0.18" style="white-space:pre"><tspan font-style="italic">t</tspan></text>
<text transform="translate(656.03,1164.90) scale(1.0722,1.0000)" font-family="Liberation Serif" font-size="22" font-weight="normal" font-style="normal" fill="#141414" stroke="#141414" stroke-width="0.18" style="white-space:pre">2</text>
<text transform="translate(568.65,1224.40) scale(0.9462,1.0000)" font-family="Liberation Serif" font-size="32" font-weight="normal" font-style="normal" fill="#141414" stroke="#141414" stroke-width="0.18" style="white-space:pre">2</text>
<text transform="translate(606.34,1224.40) scale(1.1200,1.0000)" font-family="Liberation Serif" font-size="32" font-weight="normal" font-style="normal" fill="#141414" stroke="#141414" stroke-width="0.18" style="white-space:pre"><tspan font-style="italic">a</tspan></text>
<text transform="translate(624.53,1224.40) scale(1.0722,1.0000)" font-family="Liberation Serif" font-size="32" font-weight="normal" font-style="normal" fill="#141414" stroke="#141414" stroke-width="0.18" style="white-space:pre"><tspan font-style="italic">t</tspan></text>
<text transform="translate(674.50,1224.40) scale(1.0000,1.0000)" font-family="Liberation Serif" font-size="32" font-weight="normal" font-style="normal" fill="#141414" stroke="#141414" stroke-width="0.18" style="white-space:pre"><tspan font-style="italic">b</tspan></text>
<text transform="translate(201.06,1307.25) scale(1.1379,1.0000)" font-family="Liberation Serif" font-size="32" font-weight="normal" font-style="normal" fill="#141414" stroke="#141414" stroke-width="0.18" style="white-space:pre"><tspan font-style="italic">d</tspan><tspan font-style="italic">x</tspan></text>
<text transform="translate(306.92,1284.10) scale(0.9808,1.0000)" font-family="Liberation Serif" font-size="32" font-weight="normal" font-style="normal" fill="#141414" stroke="#141414" stroke-width="0.18" style="white-space:pre">2</text>
<text transform="translate(344.24,1284.10) scale(1.1200,1.0000)" font-family="Liberation Serif" font-size="32" font-weight="normal" font-style="normal" fill="#141414" stroke="#141414" stroke-width="0.18" style="white-space:pre"><tspan font-style="italic">a</tspan></text>
<text transform="translate(362.38,1284.10) scale(0.9722,1.0000)" font-family="Liberation Serif" font-size="32" font-weight="normal" font-style="normal" fill="#141414" stroke="#141414" stroke-width="0.18" style="white-space:pre"><tspan font-style="italic">t</tspan></text>
<text transform="translate(376.93,1271.90) scale(0.9667,1.0000)" font-family="Liberation Serif" font-size="22" font-weight="normal" font-style="normal" fill="#141414" stroke="#141414" stroke-width="0.18" style="white-space:pre">2</text>
<text transform="translate(428.45,1284.10) scale(1.0463,1.0000)" font-family="Liberation Serif" font-size="32" font-weight="normal" font-style="normal" fill="#141414" stroke="#141414" stroke-width="0.18" style="white-space:pre">2<tspan font-style="italic">b</tspan><tspan font-style="italic">t</tspan></text>
<text transform="translate(512.54,1284.10) scale(0.9615,1.0000)" font-family="Liberation Serif" font-size="32" font-weight="normal" font-style="normal" fill="#141414" stroke="#141414" stroke-width="0.18" style="white-space:pre">2</text>
<text transform="translate(549.96,1284.10) scale(1.0379,1.0000)" font-family="Liberation Serif" font-size="32" font-weight="normal" font-style="normal" fill="#141414" stroke="#141414" stroke-width="0.18" style="white-space:pre"><tspan font-style="italic">a</tspan><tspan font-style="italic">c</tspan></text>
<text transform="translate(589.21,1307.25) scale(1.0920,1.0000)" font-family="Liberation Serif" font-size="32" font-weight="normal" font-style="normal" fill="#141414" stroke="#141414" stroke-width="0.18" style="white-space:pre"><tspan font-style="italic">d</tspan><tspan font-style="italic">t</tspan></text>
<text transform="translate(361.66,1342.90) scale(0.9450,1.0500)" font-family="Liberation Serif" font-size="38" font-weight="normal" font-style="normal" fill="#141414" stroke="#141414" stroke-width="0.18" style="white-space:pre">(</text>
<text transform="translate(376.50,1338.90) scale(1.0038,1.0000)" font-family="Liberation Serif" font-size="32" font-weight="normal" font-style="normal" fill="#141414" stroke="#141414" stroke-width="0.18" style="white-space:pre">2</text>
<text transform="translate(414.09,1338.90) scale(1.1200,1.0000)" font-family="Liberation Serif" font-size="32" font-weight="normal" font-style="normal" fill="#141414" stroke="#141414" stroke-width="0.18" style="white-space:pre"><tspan font-style="italic">a</tspan></text>
<text transform="translate(431.60,1338.90) scale(1.0000,1.0000)" font-family="Liberation Serif" font-size="32" font-weight="normal" font-style="normal" fill="#141414" stroke="#141414" stroke-width="0.18" style="white-space:pre"><tspan font-style="italic">t</tspan></text>
<text transform="translate(482.26,1338.90) scale(1.0429,1.0000)" font-family="Liberation Serif" font-size="32" font-weight="normal" font-style="normal" fill="#141414" stroke="#141414" stroke-width="0.18" style="white-space:pre"><tspan font-style="italic">b</tspan></text>
<text transform="translate(499.85,1342.90) scale(0.9500,1.0500)" font-family="Liberation Serif" font-size="38" font-weight="normal" font-style="normal" fill="#141414" stroke="#141414" stroke-width="0.18" style="white-space:pre">)</text>
<text transform="translate(514.20,1318.00) scale(1.0000,1.0000)" font-family="Liberation Serif" font-size="22" font-weight="normal" font-style="normal" fill="#141414" stroke="#141414" stroke-width="0.18" style="white-space:pre">2</text>
<text transform="translate(151.19,1509.25) scale(1.0603,1.0000)" font-family="Liberation Serif" font-size="32" font-weight="normal" font-style="normal" fill="#141414" stroke="#141414" stroke-width="0.18" style="white-space:pre"><tspan font-style="italic">a</tspan><tspan font-style="italic">x</tspan></text>
<text transform="translate(187.34,1499.80) scale(1.1200,1.0000)" font-family="Liberation Serif" font-size="22" font-weight="normal" font-style="normal" fill="#141414" stroke="#141414" stroke-width="0.18" style="white-space:pre">2</text>
<text transform="translate(239.82,1509.25) scale(1.0793,1.0000)" font-family="Liberation Serif" font-size="32" font-weight="normal" font-style="normal" fill="#141414" stroke="#141414" stroke-width="0.18" style="white-space:pre"><tspan font-style="italic">b</tspan><tspan font-style="italic">x</tspan></text>
<text transform="translate(311.58,1509.25) scale(0.8929,1.0000)" font-family="Liberation Serif" font-size="32" font-weight="normal" font-style="normal" fill="#141414" stroke="#141414" stroke-width="0.18" style="white-space:pre"><tspan font-style="italic">c</tspan></text>
<text transform="translate(369.00,1509.25) scale(1.1083,1.0000)" font-family="Liberation Serif" font-size="32" font-weight="normal" font-style="normal" fill="#141414" stroke="#141414" stroke-width="0.18" style="white-space:pre"><tspan font-style="italic">x</tspan><tspan font-style="italic">t</tspan></text>
<text transform="translate(455.52,1509.25) scale(1.0769,1.0000)" font-family="Liberation Serif" font-size="32" font-weight="normal" font-style="normal" fill="#141414" stroke="#141414" stroke-width="0.18" style="white-space:pre"><tspan font-style="italic">c</tspan></text>
<text transform="translate(507.16,1509.25) scale(1.1200,1.0000)" font-family="Liberation Serif" font-size="32" font-weight="normal" font-style="normal" fill="#141414" stroke="#141414" stroke-width="0.18" style="white-space:pre"><tspan font-style="italic">x</tspan></text>
<text transform="translate(566.06,1486.20) scale(0.9385,1.0000)" font-family="Liberation Serif" font-size="32" font-weight="normal" font-style="normal" fill="#141414" stroke="#141414" stroke-width="0.18" style="white-space:pre">2</text>
<text transform="translate(602.66,1486.20) scale(0.9385,1.0000)" font-family="Liberation Serif" font-size="32" font-weight="normal" font-style="normal" fill="#141414" stroke="#141414" stroke-width="0.18" style="white-space:pre"><tspan font-style="italic">c</tspan></text>
<text transform="translate(618.31,1486.20) scale(1.0889,1.0000)" font-family="Liberation Serif" font-size="32" font-weight="normal" font-style="normal" fill="#141414" stroke="#141414" stroke-width="0.18" style="white-space:pre"><tspan font-style="italic">t</tspan></text>
<text transform="translate(669.56,1486.20) scale(0.8929,1.0000)" font-family="Liberation Serif" font-size="32" font-weight="normal" font-style="normal" fill="#141414" stroke="#141414" stroke-width="0.18" style="white-space:pre"><tspan font-style="italic">b</tspan></text>
<text transform="translate(584.22,1530.00) scale(1.0786,1.0000)" font-family="Liberation Serif" font-size="32" font-weight="normal" font-style="normal" fill="#141414" stroke="#141414" stroke-width="0.18" style="white-space:pre"><tspan font-style="italic">a</tspan></text>
<text transform="translate(639.44,1530.00) scale(1.1200,1.0000)" font-family="Liberation Serif" font-size="32" font-weight="normal" font-style="normal" fill="#141414" stroke="#141414" stroke-width="0.18" style="white-space:pre"><tspan font-style="italic">t</tspan></text>
<text transform="translate(652.84,1521.30) scale(1.1200,1.0000)" font-family="Liberation Serif" font-size="22" font-weight="normal" font-style="normal" fill="#141414" stroke="#141414" stroke-width="0.18" style="white-space:pre">2</text>
<text transform="translate(212.67,1608.90) scale(1.0776,1.0000)" font-family="Liberation Serif" font-size="32" font-weight="normal" font-style="normal" fill="#141414" stroke="#141414" stroke-width="0.18" style="white-space:pre"><tspan font-style="italic">d</tspan><tspan font-style="italic">x</tspan></text>
<text transform="translate(289.58,1586.25) scale(0.9231,1.0000)" font-family="Liberation Serif" font-size="32" font-weight="normal" font-style="normal" fill="#141414" stroke="#141414" stroke-width="0.18" style="white-space:pre">2</text>
<text transform="translate(325.90,1586.25) scale(1.0962,1.0000)" font-family="Liberation Serif" font-size="32" font-weight="normal" font-style="normal" fill="#141414" stroke="#141414" stroke-width="0.18" style="white-space:pre"><tspan font-style="italic">c</tspan></text>
<text transform="translate(343.84,1586.25) scale(1.1200,1.0000)" font-family="Liberation Serif" font-size="32" font-weight="normal" font-style="normal" fill="#141414" stroke="#141414" stroke-width="0.18" style="white-space:pre"><tspan font-style="italic">t</tspan></text>
<text transform="translate(356.39,1573.75) scale(1.1111,1.0000)" font-family="Liberation Serif" font-size="22" font-weight="normal" font-style="normal" fill="#141414" stroke="#141414" stroke-width="0.18" style="white-space:pre">2</text>
<text transform="translate(409.19,1586.25) scale(1.0622,1.0000)" font-family="Liberation Serif" font-size="32" font-weight="normal" font-style="normal" fill="#141414" stroke="#141414" stroke-width="0.18" style="white-space:pre">2<tspan font-style="italic">b</tspan><tspan font-style="italic">t</tspan></text>
<text transform="translate(493.69,1586.25) scale(1.1100,1.0000)" font-family="Liberation Serif" font-size="32" font-weight="normal" font-style="normal" fill="#141414" stroke="#141414" stroke-width="0.18" style="white-space:pre">2<tspan font-style="italic">a</tspan></text>
<text transform="translate(550.25,1586.25) scale(0.8929,1.0000)" font-family="Liberation Serif" font-size="32" font-weight="normal" font-style="normal" fill="#141414" stroke="#141414" stroke-width="0.18" style="white-space:pre"><tspan font-style="italic">c</tspan></text>
<text transform="translate(570.59,1608.90) scale(1.1080,1.0000)" font-family="Liberation Serif" font-size="32" font-weight="normal" font-style="normal" fill="#141414" stroke="#141414" stroke-width="0.18" style="white-space:pre"><tspan font-style="italic">d</tspan><tspan font-style="italic">t</tspan></text>
<text transform="translate(366.39,1628.75) scale(1.1111,1.0000)" font-family="Liberation Serif" font-size="32" font-weight="normal" font-style="normal" fill="#141414" stroke="#141414" stroke-width="0.18" style="white-space:pre">(</text>
<text transform="translate(377.68,1628.75) scale(1.0714,1.0000)" font-family="Liberation Serif" font-size="32" font-weight="normal" font-style="normal" fill="#141414" stroke="#141414" stroke-width="0.18" style="white-space:pre"><tspan font-style="italic">a</tspan></text>
<text transform="translate(433.54,1628.75) scale(1.1200,1.0000)" font-family="Liberation Serif" font-size="32" font-weight="normal" font-style="normal" fill="#141414" stroke="#141414" stroke-width="0.18" style="white-space:pre"><tspan font-style="italic">t</tspan></text>
<text transform="translate(447.62,1620.40) scale(1.0778,1.0000)" font-family="Liberation Serif" font-size="22" font-weight="normal" font-style="normal" fill="#141414" stroke="#141414" stroke-width="0.18" style="white-space:pre">2</text>
<text transform="translate(459.75,1628.75) scale(1.1200,1.0000)" font-family="Liberation Serif" font-size="32" font-weight="normal" font-style="normal" fill="#141414" stroke="#141414" stroke-width="0.18" style="white-space:pre">)</text>
<text transform="translate(473.29,1620.40) scale(1.1200,1.0000)" font-family="Liberation Serif" font-size="22" font-weight="normal" font-style="normal" fill="#141414" stroke="#141414" stroke-width="0.18" style="white-space:pre">2</text>
<text transform="translate(134.94,1786.60) scale(1.0643,1.0000)" font-family="Liberation Serif" font-size="32" font-weight="normal" font-style="normal" fill="#141414" stroke="#141414" stroke-width="0.18" style="white-space:pre"><tspan font-style="italic">a</tspan></text>
<text transform="translate(151.69,1786.60) scale(1.1200,1.0000)" font-family="Liberation Serif" font-size="32" font-weight="normal" font-style="normal" fill="#141414" stroke="#141414" stroke-width="0.18" style="white-space:pre">(</text>
<text transform="translate(164.03,1786.60) scale(1.1200,1.0000)" font-family="Liberation Serif" font-size="32" font-weight="normal" font-style="normal" fill="#141414" stroke="#141414" stroke-width="0.18" style="white-space:pre"><tspan font-style="italic">x</tspan></text>
<text transform="translate(215.52,1786.60) scale(0.9844,1.0000)" font-family="Liberation Serif" font-size="32" font-weight="normal" font-style="normal" fill="#141414" stroke="#141414" stroke-width="0.18" style="white-space:pre"><tspan font-style="italic">α</tspan></text>
<text transform="translate(232.91,1786.60) scale(1.0938,1.0000)" font-family="Liberation Serif" font-size="32" font-weight="normal" font-style="normal" fill="#141414" stroke="#141414" stroke-width="0.18" style="white-space:pre">)</text>
<text transform="translate(245.19,1786.60) scale(1.1200,1.0000)" font-family="Liberation Serif" font-size="32" font-weight="normal" font-style="normal" fill="#141414" stroke="#141414" stroke-width="0.18" style="white-space:pre">(</text>
<text transform="translate(259.25,1786.60) scale(1.0000,1.0000)" font-family="Liberation Serif" font-size="32" font-weight="normal" font-style="normal" fill="#141414" stroke="#141414" stroke-width="0.18" style="white-space:pre"><tspan font-style="italic">x</tspan></text>
<text transform="translate(308.98,1786.60) scale(0.8929,1.0000)" font-family="Liberation Serif" font-size="32" font-weight="normal" font-style="normal" fill="#141414" stroke="#141414" stroke-width="0.18" style="white-space:pre"><tspan font-style="italic">β</tspan></text>
<text transform="translate(326.25,1786.60) scale(1.1200,1.0000)" font-family="Liberation Serif" font-size="32" font-weight="normal" font-style="normal" fill="#141414" stroke="#141414" stroke-width="0.18" style="white-space:pre">)</text>
<text transform="translate(378.67,1786.60) scale(1.0833,1.0000)" font-family="Liberation Serif" font-size="32" font-weight="normal" font-style="normal" fill="#141414" stroke="#141414" stroke-width="0.18" style="white-space:pre">(</text>
<text transform="translate(390.25,1786.60) scale(0.9643,1.0000)" font-family="Liberation Serif" font-size="32" font-weight="normal" font-style="normal" fill="#141414" stroke="#141414" stroke-width="0.18" style="white-space:pre"><tspan font-style="italic">x</tspan></text>
<text transform="translate(441.02,1786.60) scale(0.9844,1.0000)" font-family="Liberation Serif" font-size="32" font-weight="normal" font-style="normal" fill="#141414" stroke="#141414" stroke-width="0.18" style="white-space:pre"><tspan font-style="italic">α</tspan></text>
<text transform="translate(458.16,1786.60) scale(0.8929,1.0000)" font-family="Liberation Serif" font-size="32" font-weight="normal" font-style="normal" fill="#141414" stroke="#141414" stroke-width="0.18" style="white-space:pre">)</text>
<text transform="translate(468.46,1786.60) scale(1.1200,1.0000)" font-family="Liberation Serif" font-size="32" font-weight="normal" font-style="normal" fill="#141414" stroke="#141414" stroke-width="0.18" style="white-space:pre"><tspan font-style="italic">t</tspan></text>
<text transform="translate(515.70,1786.60) scale(1.0214,1.0000)" font-family="Liberation Serif" font-size="32" font-weight="normal" font-style="normal" fill="#141414" stroke="#141414" stroke-width="0.18" style="white-space:pre"><tspan font-style="italic">x</tspan></text>
<text transform="translate(570.54,1764.70) scale(0.9581,1.0000)" font-family="Liberation Serif" font-size="32" font-weight="normal" font-style="normal" fill="#141414" stroke="#141414" stroke-width="0.18" style="white-space:pre"><tspan font-style="italic">a</tspan><tspan font-style="italic">β</tspan></text>
<text transform="translate(639.26,1764.70) scale(1.1400,1.0000)" font-family="Liberation Serif" font-size="32" font-weight="normal" font-style="normal" fill="#141414" stroke="#141414" stroke-width="0.18" style="white-space:pre"><tspan font-style="italic">α</tspan><tspan font-style="italic">t</tspan></text>
<text transform="translate(670.49,1754.50) scale(1.1200,1.0000)" font-family="Liberation Serif" font-size="22" font-weight="normal" font-style="normal" fill="#141414" stroke="#141414" stroke-width="0.18" style="white-space:pre">2</text>
<text transform="translate(588.28,1805.00) scale(1.0214,1.0000)" font-family="Liberation Serif" font-size="32" font-weight="normal" font-style="normal" fill="#141414" stroke="#141414" stroke-width="0.18" style="white-space:pre"><tspan font-style="italic">a</tspan></text>
<text transform="translate(640.67,1805.00) scale(0.9333,1.0000)" font-family="Liberation Serif" font-size="32" font-weight="normal" font-style="normal" fill="#141414" stroke="#141414" stroke-width="0.18" style="white-space:pre"><tspan font-style="italic">t</tspan></text>
<text transform="translate(651.49,1797.20) scale(1.1200,1.0000)" font-family="Liberation Serif" font-size="22" font-weight="normal" font-style="normal" fill="#141414" stroke="#141414" stroke-width="0.18" style="white-space:pre">2</text>
<text transform="translate(261.47,1876.40) scale(1.0345,1.0000)" font-family="Liberation Serif" font-size="32" font-weight="normal" font-style="normal" fill="#141414" stroke="#141414" stroke-width="0.18" style="white-space:pre"><tspan font-style="italic">d</tspan><tspan font-style="italic">x</tspan></text>
<text transform="translate(333.77,1854.25) scale(0.9333,1.0000)" font-family="Liberation Serif" font-size="32" font-weight="normal" font-style="normal" fill="#141414" stroke="#141414" stroke-width="0.18" style="white-space:pre">(</text>
<text transform="translate(344.02,1854.25) scale(0.9787,1.0000)" font-family="Liberation Serif" font-size="32" font-weight="normal" font-style="normal" fill="#141414" stroke="#141414" stroke-width="0.18" style="white-space:pre">2<tspan font-style="italic">a</tspan><tspan font-style="italic">β</tspan></text>
<text transform="translate(430.52,1854.25) scale(1.0828,1.0000)" font-family="Liberation Serif" font-size="32" font-weight="normal" font-style="normal" fill="#141414" stroke="#141414" stroke-width="0.18" style="white-space:pre">2<tspan font-style="italic">α</tspan></text>
<text transform="translate(466.27,1844.00) scale(0.9333,1.0000)" font-family="Liberation Serif" font-size="22" font-weight="normal" font-style="normal" fill="#141414" stroke="#141414" stroke-width="0.18" style="white-space:pre">2</text>
<text transform="translate(477.05,1854.25) scale(1.1200,1.0000)" font-family="Liberation Serif" font-size="32" font-weight="normal" font-style="normal" fill="#141414" stroke="#141414" stroke-width="0.18" style="white-space:pre">)</text>
<text transform="translate(489.64,1854.25) scale(1.1200,1.0000)" font-family="Liberation Serif" font-size="32" font-weight="normal" font-style="normal" fill="#141414" stroke="#141414" stroke-width="0.18" style="white-space:pre"><tspan font-style="italic">t</tspan></text>
<text transform="translate(508.37,1876.40) scale(1.0340,1.0000)" font-family="Liberation Serif" font-size="32" font-weight="normal" font-style="normal" fill="#141414" stroke="#141414" stroke-width="0.18" style="white-space:pre"><tspan font-style="italic">d</tspan><tspan font-style="italic">t</tspan></text>
<text transform="translate(361.76,1894.60) scale(1.0444,1.0000)" font-family="Liberation Serif" font-size="32" font-weight="normal" font-style="normal" fill="#141414" stroke="#141414" stroke-width="0.18" style="white-space:pre">(</text>
<text transform="translate(372.03,1894.60) scale(1.0714,1.0000)" font-family="Liberation Serif" font-size="32" font-weight="normal" font-style="normal" fill="#141414" stroke="#141414" stroke-width="0.18" style="white-space:pre"><tspan font-style="italic">a</tspan></text>
<text transform="translate(423.99,1894.60) scale(1.1200,1.0000)" font-family="Liberation Serif" font-size="32" font-weight="normal" font-style="normal" fill="#141414" stroke="#141414" stroke-width="0.18" style="white-space:pre"><tspan font-style="italic">t</tspan></text>
<text transform="translate(436.27,1887.60) scale(0.9333,1.0000)" font-family="Liberation Serif" font-size="22" font-weight="normal" font-style="normal" fill="#141414" stroke="#141414" stroke-width="0.18" style="white-space:pre">2</text>
<text transform="translate(447.05,1894.60) scale(1.1200,1.0000)" font-family="Liberation Serif" font-size="32" font-weight="normal" font-style="normal" fill="#141414" stroke="#141414" stroke-width="0.18" style="white-space:pre">)</text>
<text transform="translate(461.46,1887.60) scale(1.0444,1.0000)" font-family="Liberation Serif" font-size="22" font-weight="normal" font-style="normal" fill="#141414" stroke="#141414" stroke-width="0.18" style="white-space:pre">2</text>
<text transform="translate(437.80,1948.70) scale(0.9808,1.0000)" font-family="Liberation Serif" font-size="17" font-weight="normal" font-style="normal" fill="#3a46d4" style="white-space:pre">The</text>
<text transform="translate(434.02,1966.60) scale(0.9794,1.0000)" font-family="Liberation Serif" font-size="17" font-weight="normal" font-style="normal" fill="#3a46d4" style="white-space:pre">Math</text>
<text transform="translate(419.87,1986.00) scale(1.0277,1.0000)" font-family="Liberation Serif" font-size="17" font-weight="normal" font-style="normal" fill="#3a46d4" style="white-space:pre">Perimeter</text>
</svg>
<h1 class="t" style="left:51.00px;top:16px;font-family:'Liberation Sans',sans-serif;font-size:60px;line-height:60px;font-weight:bold;color:#000">Advanced Substitutions</h1>
<h1 class="t" style="left:240.00px;top:88px;font-family:'Liberation Sans',sans-serif;font-size:60px;line-height:60px;font-weight:bold;color:#000">Infographic</h1>
<h2 class="t" style="left:26.00px;top:192px;font-family:'Liberation Sans',sans-serif;font-size:60px;line-height:60px;font-weight:bold;color:#000">Rationalizing Substitution</h2>
<h3 class="t" style="left:110.90px;top:283px;font-family:'Liberation Sans',sans-serif;font-size:60px;line-height:60px;font-weight:bold;color:#000">Single Root Present</h3>
<h3 class="t" style="left:85.40px;top:454px;font-family:'Liberation Sans',sans-serif;font-size:60px;line-height:60px;font-weight:bold;color:#000">Multiple Roots Present</h3>
<h2 class="t" style="left:47.50px;top:626px;font-family:'Liberation Sans',sans-serif;font-size:60px;line-height:60px;font-weight:bold;color:#000">Weierstrass Substitution</h2>
<h2 class="t" style="left:141.60px;top:980px;font-family:'Liberation Sans',sans-serif;font-size:60px;line-height:60px;font-weight:bold;color:#000">Euler Substitution</h2>
<h3 class="t" style="left:335.99px;top:1072px;font-family:'Liberation Sans',sans-serif;font-size:60px;line-height:60px;font-weight:bold;color:#000">If a &gt; 0</h3>
<h3 class="t" style="left:335.99px;top:1374px;font-family:'Liberation Sans',sans-serif;font-size:60px;line-height:60px;font-weight:bold;color:#000">If c &gt; 0</h3>
<h3 class="t" style="left:59.10px;top:1658px;font-family:'Liberation Sans',sans-serif;font-size:60px;line-height:60px;font-weight:bold;color:#000">If Quadratic Is Reducible</h3>
<div class="t" style="left:10.80px;top:1942px;font-family:'Liberation Sans',sans-serif;font-size:24px;line-height:24px;font-weight:normal;color:#333333">themathperimeter.com</div>
<div class="t" style="left:10.10px;top:1970px;font-family:'Liberation Sans',sans-serif;font-size:24px;line-height:24px;font-weight:normal;color:#333333">© The Math Perimeter LLC 2025</div>
<p class="t" style="left:538.10px;top:1941px;font-family:'Liberation Sans',sans-serif;font-size:12px;line-height:12px;font-weight:normal;color:#5f6368">This infographic is licensed under a <b>Creative</b></p>
<p class="t" style="left:537.09px;top:1955px;font-family:'Liberation Sans',sans-serif;font-size:12px;line-height:12px;font-weight:normal;color:#5f6368;transform:scaleX(1.0104);transform-origin:0 0"><b>Commons Attribution-NonCommercial-</b></p>
<p class="t" style="left:537.10px;top:1970px;font-family:'Liberation Sans',sans-serif;font-size:12px;line-height:12px;font-weight:normal;color:#5f6368;transform:scaleX(1.0048);transform-origin:0 0"><b>ShareAlike 4.0 International License (CC</b></p>
<p class="t" style="left:537.09px;top:1984px;font-family:'Liberation Sans',sans-serif;font-size:12px;line-height:12px;font-weight:normal;color:#5f6368;transform:scaleX(1.0060);transform-origin:0 0"><b>BY-NC-SA 4.0)</b>.</p>
</body></html>
